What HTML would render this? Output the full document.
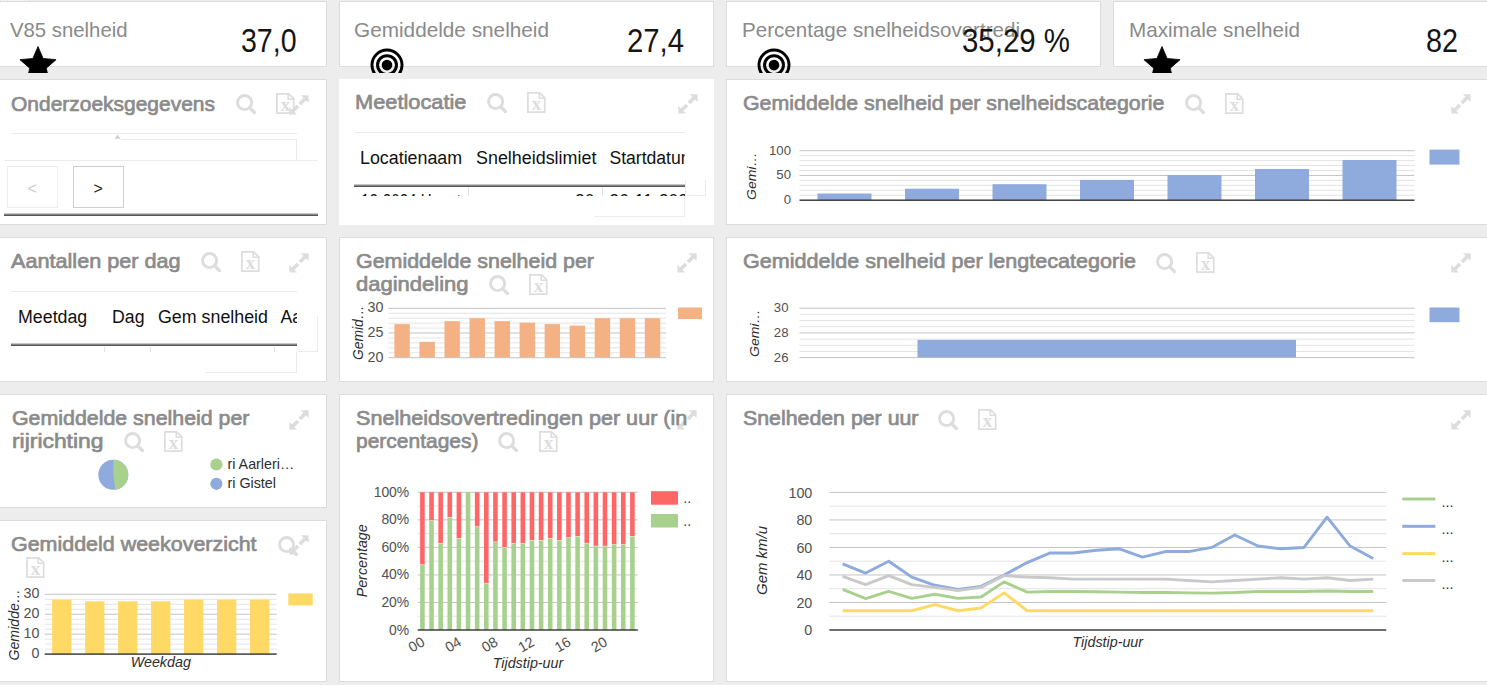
<!DOCTYPE html>
<html lang="nl"><head><meta charset="utf-8"><title>Dashboard snelheidsmetingen</title>
<style>
html,body{margin:0;padding:0}
body{width:1487px;height:685px;overflow:hidden;background:#ededed;position:relative;font-family:"Liberation Sans",sans-serif}
.a{position:absolute;box-sizing:content-box}
.p{position:absolute;background:#fff;border:1px solid #dcdcdc}
.p.nb{border:none}
.t{position:absolute;white-space:nowrap;transform-origin:0 50%}
svg{overflow:hidden;display:block}
</style></head><body>
<div class="a" style="left:2px;top:0;width:26px;height:1px;background:repeating-linear-gradient(to right,#fff 0,#fff 1px,transparent 1px,transparent 3px)"></div>
<div class="p" style="left:-6px;top:1px;width:331px;height:64px"></div>
<div class="t" style="left:10.30px;top:19.02px;font-size:21px;line-height:21px;color:#8a8a8a;transform:scaleX(0.9676);">V85 snelheid</div>
<svg class="a" style="left:16px;top:44px" width="44" height="29" viewBox="16 44 44 29"><polygon points="38.00,46.50 43.11,58.46 56.07,59.63 46.27,68.19 49.17,80.87 38.00,74.20 26.83,80.87 29.73,68.19 19.93,59.63 32.89,58.46" fill="#000" stroke="#000" stroke-width="0.8" stroke-linejoin="round"/></svg>
<div class="t" style="left:241.00px;top:23.54px;font-size:33.5px;line-height:33.5px;color:#151515;transform:scaleX(0.8512);">37,0</div>
<div class="p" style="left:339px;top:1px;width:373px;height:64px"></div>
<div class="t" style="left:354.30px;top:19.02px;font-size:21px;line-height:21px;color:#8a8a8a;transform:scaleX(0.9883);">Gemiddelde snelheid</div>
<svg class="a" style="left:367px;top:44px" width="40" height="29" viewBox="367 44 40 29"><circle cx="387" cy="65.1" r="15.05" fill="none" stroke="#000" stroke-width="2.9"/><circle cx="387" cy="65.1" r="9.45" fill="none" stroke="#000" stroke-width="3"/><circle cx="387" cy="65.1" r="5.3" fill="#000"/></svg>
<div class="t" style="left:627.00px;top:23.54px;font-size:33.5px;line-height:33.5px;color:#151515;transform:scaleX(0.8742);">27,4</div>
<div class="p" style="left:726px;top:1px;width:373px;height:64px"></div>
<div class="t" style="left:742.30px;top:19.02px;font-size:21px;line-height:21px;color:#8a8a8a;transform:scaleX(0.9800);">Percentage snelheidsovertredi</div>
<svg class="a" style="left:754.1px;top:44px" width="40" height="29" viewBox="754.1 44 40 29"><circle cx="774.1" cy="65.1" r="15.05" fill="none" stroke="#000" stroke-width="2.9"/><circle cx="774.1" cy="65.1" r="9.45" fill="none" stroke="#000" stroke-width="3"/><circle cx="774.1" cy="65.1" r="5.3" fill="#000"/></svg>
<div class="t" style="left:962.00px;top:23.54px;font-size:33.5px;line-height:33.5px;color:#151515;transform:scaleX(0.8786);">35,29 %</div>
<div class="p" style="left:1113px;top:1px;width:378px;height:64px"></div>
<div class="t" style="left:1129.30px;top:19.02px;font-size:21px;line-height:21px;color:#8a8a8a;transform:scaleX(0.9832);">Maximale snelheid</div>
<svg class="a" style="left:1140px;top:44px" width="44" height="29" viewBox="1140 44 44 29"><polygon points="1162.00,46.50 1167.11,58.46 1180.07,59.63 1170.27,68.19 1173.17,80.87 1162.00,74.20 1150.83,80.87 1153.73,68.19 1143.93,59.63 1156.89,58.46" fill="#000" stroke="#000" stroke-width="0.8" stroke-linejoin="round"/></svg>
<div class="t" style="left:1426.00px;top:23.54px;font-size:33.5px;line-height:33.5px;color:#151515;transform:scaleX(0.8588);">82</div>
<div class="p" style="left:-6px;top:79px;width:331px;height:144px"></div>
<div class="t" style="left:11.30px;top:93.69px;font-size:20.8px;line-height:20.8px;color:#8b8b8b;transform:scaleX(1.0081);-webkit-text-stroke:0.7px #8b8b8b;">Onderzoeksgegevens</div>
<svg class="a" style="left:235.8px;top:94.1px" width="22" height="22" viewBox="0 0 22 22"><circle cx="8.6" cy="8.6" r="7.05" fill="none" stroke="#dddddd" stroke-width="2.9"/><path d="M13.8 13.9 L18.4 18.5" stroke="#dddddd" stroke-width="3.2" stroke-linecap="round"/></svg>
<svg class="a" style="left:275.5px;top:93.1px" width="20" height="22" viewBox="0 0 20 22"><path d="M0.9 0.8 H12.6 L17.7 5.9 V20.2 H0.9 Z" fill="none" stroke="#dddddd" stroke-width="1.7"/><path d="M12.2 1 V6.3 H17.5" fill="none" stroke="#dddddd" stroke-width="1.5"/><text x="9.4" y="18" font-family="Liberation Serif, serif" font-weight="bold" font-size="19" text-anchor="middle" fill="#dddddd">x</text></svg>
<svg class="a" style="left:289.3px;top:94.8px" width="20" height="20" viewBox="0 0 20 20"><path d="M11.9 0.3 H19.6 V8 Z M0.3 11.9 V19.6 H8 Z" fill="#dddddd"/><path d="M10.9 9 L16.6 3.3 M9 10.9 L3.3 16.6" stroke="#dddddd" stroke-width="3.6"/></svg>
<div class="a" style="left:11px;top:133px;width:286px;height:1px;background:#ebebeb"></div>
<svg class="a" style="left:114px;top:134px" width="7" height="5" viewBox="0 0 7 5"><path d="M3.5 0.3 L6.3 4.7 H0.7 Z" fill="#c9cfe0"/></svg>
<div class="a" style="left:121px;top:139px;width:175px;height:20px;border:1px solid #ebebeb;border-left:none"></div>
<div class="a" style="left:4px;top:160px;width:314px;height:1px;background:#ebebeb"></div>
<div class="a" style="left:7px;top:166px;width:49px;height:40px;border:1px solid #eeeeee"></div>
<div class="t" style="left:27.50px;top:181.46px;font-size:16px;line-height:16px;color:#cccccc;">&lt;</div>
<div class="a" style="left:73px;top:166px;width:49px;height:40px;border:1px solid #cfcfcf"></div>
<div class="t" style="left:93.50px;top:181.46px;font-size:16px;line-height:16px;color:#222222;">&gt;</div>
<div class="a" style="left:4px;top:213px;width:314px;height:1px;background:#c6c6c6"></div>
<div class="a" style="left:4px;top:214px;width:314px;height:1px;background:#858585"></div>
<div class="a" style="left:4px;top:215px;width:314px;height:1px;background:#565656"></div>
<div class="p nb" style="left:339px;top:79px;width:375px;height:146px"></div>
<div class="t" style="left:354.80px;top:92.39px;font-size:20.8px;line-height:20.8px;color:#8b8b8b;transform:scaleX(1.0482);-webkit-text-stroke:0.7px #8b8b8b;">Meetlocatie</div>
<svg class="a" style="left:486.6px;top:93px" width="22" height="22" viewBox="0 0 22 22"><circle cx="8.6" cy="8.6" r="7.05" fill="none" stroke="#dddddd" stroke-width="2.9"/><path d="M13.8 13.9 L18.4 18.5" stroke="#dddddd" stroke-width="3.2" stroke-linecap="round"/></svg>
<svg class="a" style="left:526.8px;top:92px" width="20" height="22" viewBox="0 0 20 22"><path d="M0.9 0.8 H12.6 L17.7 5.9 V20.2 H0.9 Z" fill="none" stroke="#dddddd" stroke-width="1.7"/><path d="M12.2 1 V6.3 H17.5" fill="none" stroke="#dddddd" stroke-width="1.5"/><text x="9.4" y="18" font-family="Liberation Serif, serif" font-weight="bold" font-size="19" text-anchor="middle" fill="#dddddd">x</text></svg>
<svg class="a" style="left:677.8px;top:93.8px" width="20" height="20" viewBox="0 0 20 20"><path d="M11.9 0.3 H19.6 V8 Z M0.3 11.9 V19.6 H8 Z" fill="#dddddd"/><path d="M10.9 9 L16.6 3.3 M9 10.9 L3.3 16.6" stroke="#dddddd" stroke-width="3.6"/></svg>
<div class="a" style="left:354px;top:132px;width:331px;height:1px;background:#ebebeb"></div>
<div class="t" style="left:360.20px;top:149.50px;font-size:17.6px;line-height:17.6px;color:#111;transform:scaleX(1.0140);">Locatienaam</div>
<div class="t" style="left:476.20px;top:149.50px;font-size:17.6px;line-height:17.6px;color:#111;transform:scaleX(1.0171);">Snelheidslimiet</div>
<div class="a" style="left:600px;top:140px;width:85px;height:40px;overflow:hidden">
<div class="t" style="left:9.40px;top:9.50px;font-size:17.6px;line-height:17.6px;color:#111;">Startdatum</div>
</div>
<div class="a" style="left:354px;top:184px;width:331px;height:1px;background:#c6c6c6"></div>
<div class="a" style="left:354px;top:185px;width:331px;height:1px;background:#858585"></div>
<div class="a" style="left:354px;top:186px;width:331px;height:1px;background:#565656"></div>
<div class="a" style="left:354px;top:187px;width:331px;height:9px;overflow:hidden">
<div class="t" style="left:7.00px;top:6.10px;font-size:17.6px;line-height:17.6px;color:#111;transform:scaleX(0.8587);">12-2024 Hoogt</div>
<div class="t" style="left:221.02px;top:6.10px;font-size:17.6px;line-height:17.6px;color:#111;">30</div>
<div class="t" style="left:255.20px;top:6.10px;font-size:17.6px;line-height:17.6px;color:#111;">26-11-2024</div>
</div>
<div class="a" style="left:468px;top:187px;width:1px;height:9px;background:#e4e4e4"></div>
<div class="a" style="left:602px;top:187px;width:1px;height:9px;background:#e4e4e4"></div>
<div class="a" style="left:685px;top:180px;width:19px;height:15px;border:1px solid #ebebeb;border-top:none"></div>
<div class="a" style="left:594px;top:196px;width:90px;height:20px;border:1px solid #ebebeb;border-left:none;border-top:none"></div>
<div class="p" style="left:726px;top:79px;width:763px;height:144px"></div>
<div class="t" style="left:742.50px;top:93.39px;font-size:20.8px;line-height:20.8px;color:#8b8b8b;transform:scaleX(1.0268);-webkit-text-stroke:0.7px #8b8b8b;">Gemiddelde snelheid per snelheidscategorie</div>
<svg class="a" style="left:1184.5px;top:93.5px" width="22" height="22" viewBox="0 0 22 22"><circle cx="8.6" cy="8.6" r="7.05" fill="none" stroke="#dddddd" stroke-width="2.9"/><path d="M13.8 13.9 L18.4 18.5" stroke="#dddddd" stroke-width="3.2" stroke-linecap="round"/></svg>
<svg class="a" style="left:1224.7px;top:92.5px" width="20" height="22" viewBox="0 0 20 22"><path d="M0.9 0.8 H12.6 L17.7 5.9 V20.2 H0.9 Z" fill="none" stroke="#dddddd" stroke-width="1.7"/><path d="M12.2 1 V6.3 H17.5" fill="none" stroke="#dddddd" stroke-width="1.5"/><text x="9.4" y="18" font-family="Liberation Serif, serif" font-weight="bold" font-size="19" text-anchor="middle" fill="#dddddd">x</text></svg>
<svg class="a" style="left:1450.6px;top:94.3px" width="20" height="20" viewBox="0 0 20 20"><path d="M11.9 0.3 H19.6 V8 Z M0.3 11.9 V19.6 H8 Z" fill="#dddddd"/><path d="M10.9 9 L16.6 3.3 M9 10.9 L3.3 16.6" stroke="#dddddd" stroke-width="3.6"/></svg>
<svg class="a" style="left:735px;top:140px" width="752" height="75" viewBox="735 140 752 75" font-family="Liberation Sans, sans-serif">
<rect x="799.50" y="194.75" width="615.00" height="1" fill="#e4e4e4"/>
<rect x="799.50" y="189.80" width="615.00" height="1" fill="#e4e4e4"/>
<rect x="799.50" y="184.85" width="615.00" height="1" fill="#e4e4e4"/>
<rect x="799.50" y="179.90" width="615.00" height="1" fill="#e4e4e4"/>
<rect x="799.50" y="170.00" width="615.00" height="1" fill="#e4e4e4"/>
<rect x="799.50" y="165.05" width="615.00" height="1" fill="#e4e4e4"/>
<rect x="799.50" y="160.10" width="615.00" height="1" fill="#e4e4e4"/>
<rect x="799.50" y="155.15" width="615.00" height="1" fill="#e4e4e4"/>
<rect x="799.50" y="174.95" width="615.00" height="1" fill="#c4c4c4"/>
<rect x="799.50" y="150.20" width="615.00" height="1" fill="#c4c4c4"/>
<rect x="817.50" y="193.52" width="54.00" height="6.68" fill="#8faadc"/>
<rect x="905.00" y="188.72" width="54.00" height="11.48" fill="#8faadc"/>
<rect x="992.50" y="184.21" width="54.00" height="15.99" fill="#8faadc"/>
<rect x="1080.00" y="179.91" width="54.00" height="20.29" fill="#8faadc"/>
<rect x="1167.50" y="175.10" width="54.00" height="25.10" fill="#8faadc"/>
<rect x="1255.00" y="169.01" width="54.00" height="31.19" fill="#8faadc"/>
<rect x="1342.50" y="160.01" width="54.00" height="40.19" fill="#8faadc"/>
<rect x="799.50" y="199.50" width="615.00" height="1.4" fill="#333333"/>
<text x="791.00" y="204.20" font-size="13.2" fill="#505050" text-anchor="end">0</text>
<text x="791.00" y="179.45" font-size="13.2" fill="#505050" text-anchor="end">50</text>
<text x="791.00" y="154.70" font-size="13.2" fill="#505050" text-anchor="end">100</text>
<text x="756.00" y="200.00" font-size="13.2" fill="#2e2e2e" font-style="italic" transform="rotate(-90 756.00 200.00)" textLength="47.5" lengthAdjust="spacingAndGlyphs">Gemi…</text>
<rect x="1429.5" y="149.6" width="30" height="15" fill="#8faadc"/>
</svg>
<div class="p" style="left:-6px;top:237px;width:331px;height:143px"></div>
<div class="t" style="left:11.30px;top:251.19px;font-size:20.8px;line-height:20.8px;color:#8b8b8b;transform:scaleX(1.0400);-webkit-text-stroke:0.7px #8b8b8b;">Aantallen per dag</div>
<svg class="a" style="left:201px;top:251.9px" width="22" height="22" viewBox="0 0 22 22"><circle cx="8.6" cy="8.6" r="7.05" fill="none" stroke="#dddddd" stroke-width="2.9"/><path d="M13.8 13.9 L18.4 18.5" stroke="#dddddd" stroke-width="3.2" stroke-linecap="round"/></svg>
<svg class="a" style="left:241.3px;top:250.8px" width="20" height="22" viewBox="0 0 20 22"><path d="M0.9 0.8 H12.6 L17.7 5.9 V20.2 H0.9 Z" fill="none" stroke="#dddddd" stroke-width="1.7"/><path d="M12.2 1 V6.3 H17.5" fill="none" stroke="#dddddd" stroke-width="1.5"/><text x="9.4" y="18" font-family="Liberation Serif, serif" font-weight="bold" font-size="19" text-anchor="middle" fill="#dddddd">x</text></svg>
<svg class="a" style="left:289px;top:253px" width="20" height="20" viewBox="0 0 20 20"><path d="M11.9 0.3 H19.6 V8 Z M0.3 11.9 V19.6 H8 Z" fill="#dddddd"/><path d="M10.9 9 L16.6 3.3 M9 10.9 L3.3 16.6" stroke="#dddddd" stroke-width="3.6"/></svg>
<div class="a" style="left:11px;top:291px;width:286px;height:1px;background:#ebebeb"></div>
<div class="t" style="left:17.50px;top:309.10px;font-size:17.6px;line-height:17.6px;color:#111;transform:scaleX(1.0117);">Meetdag</div>
<div class="t" style="left:112.00px;top:309.10px;font-size:17.6px;line-height:17.6px;color:#111;transform:scaleX(1.0065);">Dag</div>
<div class="t" style="left:157.50px;top:309.10px;font-size:17.6px;line-height:17.6px;color:#111;transform:scaleX(1.0129);">Gem snelheid</div>
<div class="a" style="left:270px;top:300px;width:27px;height:40px;overflow:hidden">
<div class="t" style="left:10.50px;top:9.10px;font-size:17.6px;line-height:17.6px;color:#111;">Aantal</div>
</div>
<div class="a" style="left:11px;top:343px;width:286px;height:1px;background:#c6c6c6"></div>
<div class="a" style="left:11px;top:344px;width:286px;height:1px;background:#858585"></div>
<div class="a" style="left:11px;top:345px;width:286px;height:1px;background:#565656"></div>
<div class="a" style="left:104px;top:346.5px;width:1px;height:5.5px;background:#e4e4e4"></div>
<div class="a" style="left:150px;top:346.5px;width:1px;height:5.5px;background:#e4e4e4"></div>
<div class="a" style="left:274px;top:346.5px;width:1px;height:5.5px;background:#e4e4e4"></div>
<div class="a" style="left:297px;top:316px;width:19.5px;height:35px;border:1px solid #ebebeb;border-top:none;border-left:none"></div>
<div class="a" style="left:206px;top:352px;width:90px;height:20px;border:1px solid #ebebeb;border-left:none;border-top:none"></div>
<div class="p" style="left:339px;top:237px;width:373px;height:143px"></div>
<div class="t" style="left:355.50px;top:250.89px;font-size:20.8px;line-height:20.8px;color:#8b8b8b;transform:scaleX(1.0291);-webkit-text-stroke:0.7px #8b8b8b;">Gemiddelde snelheid per</div>
<div class="t" style="left:355.50px;top:273.89px;font-size:20.8px;line-height:20.8px;color:#8b8b8b;transform:scaleX(1.0581);-webkit-text-stroke:0.7px #8b8b8b;">dagindeling</div>
<svg class="a" style="left:488.5px;top:275.3px" width="22" height="22" viewBox="0 0 22 22"><circle cx="8.6" cy="8.6" r="7.05" fill="none" stroke="#dddddd" stroke-width="2.9"/><path d="M13.8 13.9 L18.4 18.5" stroke="#dddddd" stroke-width="3.2" stroke-linecap="round"/></svg>
<svg class="a" style="left:529px;top:274.3px" width="20" height="22" viewBox="0 0 20 22"><path d="M0.9 0.8 H12.6 L17.7 5.9 V20.2 H0.9 Z" fill="none" stroke="#dddddd" stroke-width="1.7"/><path d="M12.2 1 V6.3 H17.5" fill="none" stroke="#dddddd" stroke-width="1.5"/><text x="9.4" y="18" font-family="Liberation Serif, serif" font-weight="bold" font-size="19" text-anchor="middle" fill="#dddddd">x</text></svg>
<svg class="a" style="left:676.5px;top:253px" width="20" height="20" viewBox="0 0 20 20"><path d="M11.9 0.3 H19.6 V8 Z M0.3 11.9 V19.6 H8 Z" fill="#dddddd"/><path d="M10.9 9 L16.6 3.3 M9 10.9 L3.3 16.6" stroke="#dddddd" stroke-width="3.6"/></svg>
<svg class="a" style="left:345px;top:296px" width="370" height="75" viewBox="345 296 370 75" font-family="Liberation Sans, sans-serif">
<rect x="388.50" y="352.26" width="277.50" height="1" fill="#e4e4e4"/>
<rect x="388.50" y="347.32" width="277.50" height="1" fill="#e4e4e4"/>
<rect x="388.50" y="342.38" width="277.50" height="1" fill="#e4e4e4"/>
<rect x="388.50" y="337.44" width="277.50" height="1" fill="#e4e4e4"/>
<rect x="388.50" y="327.56" width="277.50" height="1" fill="#e4e4e4"/>
<rect x="388.50" y="322.62" width="277.50" height="1" fill="#e4e4e4"/>
<rect x="388.50" y="317.68" width="277.50" height="1" fill="#e4e4e4"/>
<rect x="388.50" y="312.74" width="277.50" height="1" fill="#e4e4e4"/>
<rect x="388.50" y="332.50" width="277.50" height="1" fill="#c4c4c4"/>
<rect x="388.50" y="307.80" width="277.50" height="1" fill="#c4c4c4"/>
<rect x="394.40" y="324.11" width="15.40" height="33.59" fill="#f4b183"/>
<rect x="419.44" y="341.89" width="15.40" height="15.81" fill="#f4b183"/>
<rect x="444.48" y="321.14" width="15.40" height="36.56" fill="#f4b183"/>
<rect x="469.52" y="318.18" width="15.40" height="39.52" fill="#f4b183"/>
<rect x="494.56" y="321.14" width="15.40" height="36.56" fill="#f4b183"/>
<rect x="519.60" y="322.63" width="15.40" height="35.07" fill="#f4b183"/>
<rect x="544.64" y="324.11" width="15.40" height="33.59" fill="#f4b183"/>
<rect x="569.68" y="325.59" width="15.40" height="32.11" fill="#f4b183"/>
<rect x="594.72" y="318.18" width="15.40" height="39.52" fill="#f4b183"/>
<rect x="619.76" y="318.18" width="15.40" height="39.52" fill="#f4b183"/>
<rect x="644.80" y="318.18" width="15.40" height="39.52" fill="#f4b183"/>
<rect x="388.50" y="357.20" width="277.50" height="1" fill="#c4c4c4"/>
<text x="383.50" y="361.60" font-size="14.3" fill="#505050" text-anchor="end">20</text>
<text x="383.50" y="336.90" font-size="14.3" fill="#505050" text-anchor="end">25</text>
<text x="383.50" y="312.20" font-size="14.3" fill="#505050" text-anchor="end">30</text>
<text x="362.70" y="360.00" font-size="14.3" fill="#2e2e2e" font-style="italic" transform="rotate(-90 362.70 360.00)" textLength="54.5" lengthAdjust="spacingAndGlyphs">Gemid…</text>
<rect x="678" y="307.5" width="24" height="11.5" fill="#f4b183"/>
</svg>
<div class="p" style="left:726px;top:237px;width:763px;height:143px"></div>
<div class="t" style="left:742.50px;top:251.39px;font-size:20.8px;line-height:20.8px;color:#8b8b8b;transform:scaleX(1.0361);-webkit-text-stroke:0.7px #8b8b8b;">Gemiddelde snelheid per lengtecategorie</div>
<svg class="a" style="left:1156px;top:252.5px" width="22" height="22" viewBox="0 0 22 22"><circle cx="8.6" cy="8.6" r="7.05" fill="none" stroke="#dddddd" stroke-width="2.9"/><path d="M13.8 13.9 L18.4 18.5" stroke="#dddddd" stroke-width="3.2" stroke-linecap="round"/></svg>
<svg class="a" style="left:1196.3px;top:251.5px" width="20" height="22" viewBox="0 0 20 22"><path d="M0.9 0.8 H12.6 L17.7 5.9 V20.2 H0.9 Z" fill="none" stroke="#dddddd" stroke-width="1.7"/><path d="M12.2 1 V6.3 H17.5" fill="none" stroke="#dddddd" stroke-width="1.5"/><text x="9.4" y="18" font-family="Liberation Serif, serif" font-weight="bold" font-size="19" text-anchor="middle" fill="#dddddd">x</text></svg>
<svg class="a" style="left:1450.6px;top:253px" width="20" height="20" viewBox="0 0 20 20"><path d="M11.9 0.3 H19.6 V8 Z M0.3 11.9 V19.6 H8 Z" fill="#dddddd"/><path d="M10.9 9 L16.6 3.3 M9 10.9 L3.3 16.6" stroke="#dddddd" stroke-width="3.6"/></svg>
<svg class="a" style="left:735px;top:296px" width="752" height="75" viewBox="735 296 752 75" font-family="Liberation Sans, sans-serif">
<rect x="799.50" y="350.93" width="615.00" height="1" fill="#e4e4e4"/>
<rect x="799.50" y="344.75" width="615.00" height="1" fill="#e4e4e4"/>
<rect x="799.50" y="338.57" width="615.00" height="1" fill="#e4e4e4"/>
<rect x="799.50" y="326.23" width="615.00" height="1" fill="#e4e4e4"/>
<rect x="799.50" y="320.05" width="615.00" height="1" fill="#e4e4e4"/>
<rect x="799.50" y="313.88" width="615.00" height="1" fill="#e4e4e4"/>
<rect x="799.50" y="332.40" width="615.00" height="1" fill="#c4c4c4"/>
<rect x="799.50" y="307.70" width="615.00" height="1" fill="#c4c4c4"/>
<rect x="799.50" y="357.10" width="615.00" height="1" fill="#c4c4c4"/>
<rect x="917.5" y="339.9" width="378.5" height="17.5" fill="#8faadc"/>
<text x="788.50" y="361.60" font-size="13.2" fill="#505050" text-anchor="end">26</text>
<text x="788.50" y="336.90" font-size="13.2" fill="#505050" text-anchor="end">28</text>
<text x="788.50" y="312.20" font-size="13.2" fill="#505050" text-anchor="end">30</text>
<text x="759.00" y="357.00" font-size="13.2" fill="#2e2e2e" font-style="italic" transform="rotate(-90 759.00 357.00)" textLength="47.5" lengthAdjust="spacingAndGlyphs">Gemi…</text>
<rect x="1429.5" y="307.5" width="30" height="14.7" fill="#8faadc"/>
</svg>
<div class="p" style="left:-6px;top:394px;width:331px;height:112px"></div>
<div class="t" style="left:11.50px;top:407.79px;font-size:20.8px;line-height:20.8px;color:#8b8b8b;transform:scaleX(1.0269);-webkit-text-stroke:0.7px #8b8b8b;">Gemiddelde snelheid per</div>
<div class="t" style="left:11.50px;top:430.69px;font-size:20.8px;line-height:20.8px;color:#8b8b8b;transform:scaleX(1.0994);-webkit-text-stroke:0.7px #8b8b8b;">rijrichting</div>
<svg class="a" style="left:123.7px;top:432.3px" width="22" height="22" viewBox="0 0 22 22"><circle cx="8.6" cy="8.6" r="7.05" fill="none" stroke="#dddddd" stroke-width="2.9"/><path d="M13.8 13.9 L18.4 18.5" stroke="#dddddd" stroke-width="3.2" stroke-linecap="round"/></svg>
<svg class="a" style="left:164.2px;top:431.3px" width="20" height="22" viewBox="0 0 20 22"><path d="M0.9 0.8 H12.6 L17.7 5.9 V20.2 H0.9 Z" fill="none" stroke="#dddddd" stroke-width="1.7"/><path d="M12.2 1 V6.3 H17.5" fill="none" stroke="#dddddd" stroke-width="1.5"/><text x="9.4" y="18" font-family="Liberation Serif, serif" font-weight="bold" font-size="19" text-anchor="middle" fill="#dddddd">x</text></svg>
<svg class="a" style="left:289.3px;top:410px" width="20" height="20" viewBox="0 0 20 20"><path d="M11.9 0.3 H19.6 V8 Z M0.3 11.9 V19.6 H8 Z" fill="#dddddd"/><path d="M10.9 9 L16.6 3.3 M9 10.9 L3.3 16.6" stroke="#dddddd" stroke-width="3.6"/></svg>
<svg class="a" style="left:90px;top:455px" width="230" height="45" viewBox="90 455 230 45" font-family="Liberation Sans, sans-serif">
<circle cx="113.3" cy="474.8" r="15" fill="#8faadc"/>
<path d="M113.3 474.8 L113.3 459.8 A15 15 0 0 1 115.39 489.65 Z" fill="#a9d18e"/>
<circle cx="216.4" cy="464.5" r="6.1" fill="#a9d18e"/><circle cx="216.4" cy="483.8" r="6.1" fill="#8faadc"/>
<text x="227.50" y="468.80" font-size="14.3" fill="#2e2e2e">ri Aarleri…</text>
<text x="227.50" y="488.10" font-size="14.3" fill="#2e2e2e">ri Gistel</text>
</svg>
<div class="p" style="left:-6px;top:520px;width:331px;height:160px"></div>
<div class="t" style="left:11.40px;top:534.09px;font-size:20.8px;line-height:20.8px;color:#8b8b8b;transform:scaleX(1.0312);-webkit-text-stroke:0.7px #8b8b8b;">Gemiddeld weekoverzicht</div>
<svg class="a" style="left:278px;top:535.5px" width="22" height="22" viewBox="0 0 22 22"><circle cx="8.6" cy="8.6" r="7.05" fill="none" stroke="#dddddd" stroke-width="2.9"/><path d="M13.8 13.9 L18.4 18.5" stroke="#dddddd" stroke-width="3.2" stroke-linecap="round"/></svg>
<svg class="a" style="left:288.6px;top:535px" width="20" height="20" viewBox="0 0 20 20"><path d="M11.9 0.3 H19.6 V8 Z M0.3 11.9 V19.6 H8 Z" fill="#dddddd"/><path d="M10.9 9 L16.6 3.3 M9 10.9 L3.3 16.6" stroke="#dddddd" stroke-width="3.6"/></svg>
<svg class="a" style="left:26px;top:556.5px" width="20" height="22" viewBox="0 0 20 22"><path d="M0.9 0.8 H12.6 L17.7 5.9 V20.2 H0.9 Z" fill="none" stroke="#dddddd" stroke-width="1.7"/><path d="M12.2 1 V6.3 H17.5" fill="none" stroke="#dddddd" stroke-width="1.5"/><text x="9.4" y="18" font-family="Liberation Serif, serif" font-weight="bold" font-size="19" text-anchor="middle" fill="#dddddd">x</text></svg>
<svg class="a" style="left:0px;top:580px" width="326" height="100" viewBox="0 580 326 100" font-family="Liberation Sans, sans-serif">
<rect x="44.70" y="648.62" width="232.00" height="1" fill="#e4e4e4"/>
<rect x="44.70" y="643.63" width="232.00" height="1" fill="#e4e4e4"/>
<rect x="44.70" y="638.65" width="232.00" height="1" fill="#e4e4e4"/>
<rect x="44.70" y="628.68" width="232.00" height="1" fill="#e4e4e4"/>
<rect x="44.70" y="623.70" width="232.00" height="1" fill="#e4e4e4"/>
<rect x="44.70" y="618.72" width="232.00" height="1" fill="#e4e4e4"/>
<rect x="44.70" y="608.75" width="232.00" height="1" fill="#e4e4e4"/>
<rect x="44.70" y="603.77" width="232.00" height="1" fill="#e4e4e4"/>
<rect x="44.70" y="598.78" width="232.00" height="1" fill="#e4e4e4"/>
<rect x="44.70" y="633.67" width="232.00" height="1" fill="#c4c4c4"/>
<rect x="44.70" y="613.73" width="232.00" height="1" fill="#c4c4c4"/>
<rect x="44.70" y="593.80" width="232.00" height="1" fill="#c4c4c4"/>
<rect x="52.15" y="599.68" width="19.30" height="54.42" fill="#ffd966"/>
<rect x="85.12" y="601.28" width="19.30" height="52.82" fill="#ffd966"/>
<rect x="118.09" y="601.28" width="19.30" height="52.82" fill="#ffd966"/>
<rect x="151.06" y="601.28" width="19.30" height="52.82" fill="#ffd966"/>
<rect x="184.03" y="599.68" width="19.30" height="54.42" fill="#ffd966"/>
<rect x="217.00" y="599.68" width="19.30" height="54.42" fill="#ffd966"/>
<rect x="249.97" y="599.68" width="19.30" height="54.42" fill="#ffd966"/>
<rect x="44.70" y="653.40" width="232.00" height="1.4" fill="#333333"/>
<text x="39.50" y="657.90" font-size="14.3" fill="#505050" text-anchor="end">0</text>
<text x="39.50" y="637.97" font-size="14.3" fill="#505050" text-anchor="end">10</text>
<text x="39.50" y="618.03" font-size="14.3" fill="#505050" text-anchor="end">20</text>
<text x="39.50" y="598.10" font-size="14.3" fill="#505050" text-anchor="end">30</text>
<text x="19.00" y="660.50" font-size="14.3" fill="#2e2e2e" font-style="italic" transform="rotate(-90 19.00 660.50)" textLength="71.5" lengthAdjust="spacingAndGlyphs">Gemidde…</text>
<text x="160.80" y="667.00" font-size="14.3" fill="#2e2e2e" text-anchor="middle" font-style="italic">Weekdag</text>
<rect x="288.3" y="593.4" width="24.4" height="12" fill="#ffd966"/>
</svg>
<div class="p" style="left:339px;top:394px;width:373px;height:286px"></div>
<svg class="a" style="left:677px;top:410.3px" width="20" height="20" viewBox="0 0 20 20"><path d="M11.9 0.3 H19.6 V8 Z M0.3 11.9 V19.6 H8 Z" fill="#dddddd"/><path d="M10.9 9 L16.6 3.3 M9 10.9 L3.3 16.6" stroke="#dddddd" stroke-width="3.6"/></svg>
<div class="t" style="left:355.50px;top:408.09px;font-size:20.8px;line-height:20.8px;color:#8b8b8b;transform:scaleX(1.0384);-webkit-text-stroke:0.7px #8b8b8b;">Snelheidsovertredingen per uur (in</div>
<div class="t" style="left:355.50px;top:430.89px;font-size:20.8px;line-height:20.8px;color:#8b8b8b;transform:scaleX(1.0089);-webkit-text-stroke:0.7px #8b8b8b;">percentages)</div>
<svg class="a" style="left:498px;top:432.3px" width="22" height="22" viewBox="0 0 22 22"><circle cx="8.6" cy="8.6" r="7.05" fill="none" stroke="#dddddd" stroke-width="2.9"/><path d="M13.8 13.9 L18.4 18.5" stroke="#dddddd" stroke-width="3.2" stroke-linecap="round"/></svg>
<svg class="a" style="left:538.5px;top:431.3px" width="20" height="22" viewBox="0 0 20 22"><path d="M0.9 0.8 H12.6 L17.7 5.9 V20.2 H0.9 Z" fill="none" stroke="#dddddd" stroke-width="1.7"/><path d="M12.2 1 V6.3 H17.5" fill="none" stroke="#dddddd" stroke-width="1.5"/><text x="9.4" y="18" font-family="Liberation Serif, serif" font-weight="bold" font-size="19" text-anchor="middle" fill="#dddddd">x</text></svg>
<svg class="a" style="left:345px;top:480px" width="368" height="200" viewBox="345 480 368 200" font-family="Liberation Sans, sans-serif">
<rect x="417.70" y="615.73" width="220.10" height="1" fill="#e4e4e4"/>
<rect x="417.70" y="588.19" width="220.10" height="1" fill="#e4e4e4"/>
<rect x="417.70" y="560.65" width="220.10" height="1" fill="#e4e4e4"/>
<rect x="417.70" y="533.11" width="220.10" height="1" fill="#e4e4e4"/>
<rect x="417.70" y="505.57" width="220.10" height="1" fill="#e4e4e4"/>
<rect x="417.70" y="601.96" width="220.10" height="1" fill="#c4c4c4"/>
<rect x="417.70" y="574.42" width="220.10" height="1" fill="#c4c4c4"/>
<rect x="417.70" y="546.88" width="220.10" height="1" fill="#c4c4c4"/>
<rect x="417.70" y="519.34" width="220.10" height="1" fill="#c4c4c4"/>
<rect x="417.70" y="491.80" width="220.10" height="1" fill="#c4c4c4"/>
<rect x="420.10" y="492.30" width="4.60" height="72.43" fill="#ff6666"/>
<rect x="420.10" y="564.73" width="4.60" height="65.27" fill="#a9d18e"/>
<rect x="420.10" y="564.38" width="4.60" height="0.7" fill="#fff" fill-opacity="0.55"/>
<rect x="429.23" y="492.30" width="4.60" height="28.37" fill="#ff6666"/>
<rect x="429.23" y="520.67" width="4.60" height="109.33" fill="#a9d18e"/>
<rect x="429.23" y="520.32" width="4.60" height="0.7" fill="#fff" fill-opacity="0.55"/>
<rect x="438.36" y="492.30" width="4.60" height="50.95" fill="#ff6666"/>
<rect x="438.36" y="543.25" width="4.60" height="86.75" fill="#a9d18e"/>
<rect x="438.36" y="542.90" width="4.60" height="0.7" fill="#fff" fill-opacity="0.55"/>
<rect x="447.49" y="492.30" width="4.60" height="25.20" fill="#ff6666"/>
<rect x="447.49" y="517.50" width="4.60" height="112.50" fill="#a9d18e"/>
<rect x="447.49" y="517.15" width="4.60" height="0.7" fill="#fff" fill-opacity="0.55"/>
<rect x="456.62" y="492.30" width="4.60" height="46.27" fill="#ff6666"/>
<rect x="456.62" y="538.57" width="4.60" height="91.43" fill="#a9d18e"/>
<rect x="456.62" y="538.22" width="4.60" height="0.7" fill="#fff" fill-opacity="0.55"/>
<rect x="465.75" y="492.30" width="4.60" height="0.00" fill="#ff6666"/>
<rect x="465.75" y="492.30" width="4.60" height="137.70" fill="#a9d18e"/>
<rect x="474.88" y="492.30" width="4.60" height="34.43" fill="#ff6666"/>
<rect x="474.88" y="526.73" width="4.60" height="103.27" fill="#a9d18e"/>
<rect x="474.88" y="526.38" width="4.60" height="0.7" fill="#fff" fill-opacity="0.55"/>
<rect x="484.01" y="492.30" width="4.60" height="90.88" fill="#ff6666"/>
<rect x="484.01" y="583.18" width="4.60" height="46.82" fill="#a9d18e"/>
<rect x="484.01" y="582.83" width="4.60" height="0.7" fill="#fff" fill-opacity="0.55"/>
<rect x="493.14" y="492.30" width="4.60" height="49.57" fill="#ff6666"/>
<rect x="493.14" y="541.87" width="4.60" height="88.13" fill="#a9d18e"/>
<rect x="493.14" y="541.52" width="4.60" height="0.7" fill="#fff" fill-opacity="0.55"/>
<rect x="502.27" y="492.30" width="4.60" height="55.08" fill="#ff6666"/>
<rect x="502.27" y="547.38" width="4.60" height="82.62" fill="#a9d18e"/>
<rect x="502.27" y="547.03" width="4.60" height="0.7" fill="#fff" fill-opacity="0.55"/>
<rect x="511.40" y="492.30" width="4.60" height="50.95" fill="#ff6666"/>
<rect x="511.40" y="543.25" width="4.60" height="86.75" fill="#a9d18e"/>
<rect x="511.40" y="542.90" width="4.60" height="0.7" fill="#fff" fill-opacity="0.55"/>
<rect x="520.53" y="492.30" width="4.60" height="50.95" fill="#ff6666"/>
<rect x="520.53" y="543.25" width="4.60" height="86.75" fill="#a9d18e"/>
<rect x="520.53" y="542.90" width="4.60" height="0.7" fill="#fff" fill-opacity="0.55"/>
<rect x="529.66" y="492.30" width="4.60" height="48.19" fill="#ff6666"/>
<rect x="529.66" y="540.50" width="4.60" height="89.50" fill="#a9d18e"/>
<rect x="529.66" y="540.14" width="4.60" height="0.7" fill="#fff" fill-opacity="0.55"/>
<rect x="538.79" y="492.30" width="4.60" height="48.19" fill="#ff6666"/>
<rect x="538.79" y="540.50" width="4.60" height="89.50" fill="#a9d18e"/>
<rect x="538.79" y="540.14" width="4.60" height="0.7" fill="#fff" fill-opacity="0.55"/>
<rect x="547.92" y="492.30" width="4.60" height="46.27" fill="#ff6666"/>
<rect x="547.92" y="538.57" width="4.60" height="91.43" fill="#a9d18e"/>
<rect x="547.92" y="538.22" width="4.60" height="0.7" fill="#fff" fill-opacity="0.55"/>
<rect x="557.05" y="492.30" width="4.60" height="48.19" fill="#ff6666"/>
<rect x="557.05" y="540.50" width="4.60" height="89.50" fill="#a9d18e"/>
<rect x="557.05" y="540.14" width="4.60" height="0.7" fill="#fff" fill-opacity="0.55"/>
<rect x="566.18" y="492.30" width="4.60" height="45.44" fill="#ff6666"/>
<rect x="566.18" y="537.74" width="4.60" height="92.26" fill="#a9d18e"/>
<rect x="566.18" y="537.39" width="4.60" height="0.7" fill="#fff" fill-opacity="0.55"/>
<rect x="575.31" y="492.30" width="4.60" height="44.06" fill="#ff6666"/>
<rect x="575.31" y="536.36" width="4.60" height="93.64" fill="#a9d18e"/>
<rect x="575.31" y="536.01" width="4.60" height="0.7" fill="#fff" fill-opacity="0.55"/>
<rect x="584.44" y="492.30" width="4.60" height="50.95" fill="#ff6666"/>
<rect x="584.44" y="543.25" width="4.60" height="86.75" fill="#a9d18e"/>
<rect x="584.44" y="542.90" width="4.60" height="0.7" fill="#fff" fill-opacity="0.55"/>
<rect x="593.57" y="492.30" width="4.60" height="53.70" fill="#ff6666"/>
<rect x="593.57" y="546.00" width="4.60" height="84.00" fill="#a9d18e"/>
<rect x="593.57" y="545.65" width="4.60" height="0.7" fill="#fff" fill-opacity="0.55"/>
<rect x="602.70" y="492.30" width="4.60" height="53.70" fill="#ff6666"/>
<rect x="602.70" y="546.00" width="4.60" height="84.00" fill="#a9d18e"/>
<rect x="602.70" y="545.65" width="4.60" height="0.7" fill="#fff" fill-opacity="0.55"/>
<rect x="611.83" y="492.30" width="4.60" height="52.33" fill="#ff6666"/>
<rect x="611.83" y="544.63" width="4.60" height="85.37" fill="#a9d18e"/>
<rect x="611.83" y="544.28" width="4.60" height="0.7" fill="#fff" fill-opacity="0.55"/>
<rect x="620.96" y="492.30" width="4.60" height="52.33" fill="#ff6666"/>
<rect x="620.96" y="544.63" width="4.60" height="85.37" fill="#a9d18e"/>
<rect x="620.96" y="544.28" width="4.60" height="0.7" fill="#fff" fill-opacity="0.55"/>
<rect x="630.09" y="492.30" width="4.60" height="44.06" fill="#ff6666"/>
<rect x="630.09" y="536.36" width="4.60" height="93.64" fill="#a9d18e"/>
<rect x="630.09" y="536.01" width="4.60" height="0.7" fill="#fff" fill-opacity="0.55"/>
<rect x="417.70" y="629.30" width="220.10" height="1.4" fill="#333333"/>
<text x="409.20" y="634.50" font-size="13.9" fill="#505050" text-anchor="end">0%</text>
<text x="409.20" y="606.96" font-size="13.9" fill="#505050" text-anchor="end">20%</text>
<text x="409.20" y="579.42" font-size="13.9" fill="#505050" text-anchor="end">40%</text>
<text x="409.20" y="551.88" font-size="13.9" fill="#505050" text-anchor="end">60%</text>
<text x="409.20" y="524.34" font-size="13.9" fill="#505050" text-anchor="end">80%</text>
<text x="409.20" y="496.80" font-size="13.9" fill="#505050" text-anchor="end">100%</text>
<text x="425.90" y="644.70" font-size="14.3" fill="#505050" text-anchor="end" transform="rotate(-30 425.90 644.70)">00</text>
<text x="462.42" y="644.70" font-size="14.3" fill="#505050" text-anchor="end" transform="rotate(-30 462.42 644.70)">04</text>
<text x="498.94" y="644.70" font-size="14.3" fill="#505050" text-anchor="end" transform="rotate(-30 498.94 644.70)">08</text>
<text x="535.46" y="644.70" font-size="14.3" fill="#505050" text-anchor="end" transform="rotate(-30 535.46 644.70)">12</text>
<text x="571.98" y="644.70" font-size="14.3" fill="#505050" text-anchor="end" transform="rotate(-30 571.98 644.70)">16</text>
<text x="608.50" y="644.70" font-size="14.3" fill="#505050" text-anchor="end" transform="rotate(-30 608.50 644.70)">20</text>
<text x="366.80" y="560.80" font-size="14.3" fill="#2e2e2e" text-anchor="middle" font-style="italic" transform="rotate(-90 366.80 560.80)">Percentage</text>
<text x="528.00" y="667.60" font-size="14.3" fill="#2e2e2e" text-anchor="middle" font-style="italic">Tijdstip-uur</text>
<rect x="651" y="491.2" width="27" height="13.5" fill="#ff6666"/><rect x="651" y="514" width="27" height="13.5" fill="#a9d18e"/>
<text x="683.30" y="503.00" font-size="14.3" fill="#3a3a3a">..</text>
<text x="683.30" y="525.50" font-size="14.3" fill="#3a3a3a">..</text>
</svg>
<div class="p" style="left:726px;top:394px;width:763px;height:286px"></div>
<div class="t" style="left:742.50px;top:408.19px;font-size:20.8px;line-height:20.8px;color:#8b8b8b;transform:scaleX(1.0253);-webkit-text-stroke:0.7px #8b8b8b;">Snelheden per uur</div>
<svg class="a" style="left:937.5px;top:409.5px" width="22" height="22" viewBox="0 0 22 22"><circle cx="8.6" cy="8.6" r="7.05" fill="none" stroke="#dddddd" stroke-width="2.9"/><path d="M13.8 13.9 L18.4 18.5" stroke="#dddddd" stroke-width="3.2" stroke-linecap="round"/></svg>
<svg class="a" style="left:977.5px;top:408.5px" width="20" height="22" viewBox="0 0 20 22"><path d="M0.9 0.8 H12.6 L17.7 5.9 V20.2 H0.9 Z" fill="none" stroke="#dddddd" stroke-width="1.7"/><path d="M12.2 1 V6.3 H17.5" fill="none" stroke="#dddddd" stroke-width="1.5"/><text x="9.4" y="18" font-family="Liberation Serif, serif" font-weight="bold" font-size="19" text-anchor="middle" fill="#dddddd">x</text></svg>
<svg class="a" style="left:1450.6px;top:410px" width="20" height="20" viewBox="0 0 20 20"><path d="M11.9 0.3 H19.6 V8 Z M0.3 11.9 V19.6 H8 Z" fill="#dddddd"/><path d="M10.9 9 L16.6 3.3 M9 10.9 L3.3 16.6" stroke="#dddddd" stroke-width="3.6"/></svg>
<svg class="a" style="left:735px;top:480px" width="752" height="200" viewBox="735 480 752 200" font-family="Liberation Sans, sans-serif">
<rect x="829.30" y="615.74" width="557.00" height="1" fill="#e4e4e4"/>
<rect x="829.30" y="588.22" width="557.00" height="1" fill="#e4e4e4"/>
<rect x="829.30" y="560.70" width="557.00" height="1" fill="#e4e4e4"/>
<rect x="829.30" y="533.18" width="557.00" height="1" fill="#e4e4e4"/>
<rect x="829.30" y="505.66" width="557.00" height="1" fill="#e4e4e4"/>
<rect x="829.30" y="601.98" width="557.00" height="1" fill="#c4c4c4"/>
<rect x="829.30" y="574.46" width="557.00" height="1" fill="#c4c4c4"/>
<rect x="829.30" y="546.94" width="557.00" height="1" fill="#c4c4c4"/>
<rect x="829.30" y="519.42" width="557.00" height="1" fill="#c4c4c4"/>
<rect x="829.30" y="491.90" width="557.00" height="1" fill="#c4c4c4"/>
<polyline points="842.60,589.41 865.67,598.63 888.74,591.47 911.81,598.35 934.88,594.22 957.95,598.35 981.02,596.98 1004.09,581.84 1027.16,592.16 1050.23,591.47 1073.30,591.47 1096.37,591.75 1119.44,592.16 1142.51,592.57 1165.58,592.44 1188.65,592.85 1211.72,593.12 1234.79,592.57 1257.86,591.47 1280.93,591.47 1304.00,591.47 1327.07,591.06 1350.14,591.47 1373.21,591.47" fill="none" stroke="#a9d18e" stroke-width="2.9" stroke-linejoin="round"/>
<polyline points="842.60,563.95 865.67,573.03 888.74,561.20 911.81,577.16 934.88,585.28 957.95,589.41 981.02,586.38 1004.09,574.96 1027.16,562.58 1050.23,552.94 1073.30,552.94 1096.37,550.19 1119.44,548.82 1142.51,557.07 1165.58,551.57 1188.65,551.57 1211.72,547.44 1234.79,535.06 1257.86,546.06 1280.93,548.82 1304.00,547.44 1327.07,517.17 1350.14,546.06 1373.21,558.45" fill="none" stroke="#8faadc" stroke-width="2.9" stroke-linejoin="round"/>
<polyline points="842.60,610.74 865.67,610.74 888.74,610.74 911.81,610.74 934.88,604.54 957.95,610.74 981.02,607.98 1004.09,592.85 1027.16,610.74 1050.23,610.74 1073.30,610.74 1096.37,610.74 1119.44,610.74 1142.51,610.74 1165.58,610.74 1188.65,610.74 1211.72,610.74 1234.79,610.74 1257.86,610.74 1280.93,610.74 1304.00,610.74 1327.07,610.74 1350.14,610.74 1373.21,610.74" fill="none" stroke="#ffd966" stroke-width="2.9" stroke-linejoin="round"/>
<polyline points="842.60,576.34 865.67,584.59 888.74,575.65 911.81,584.59 934.88,587.34 957.95,590.51 981.02,587.34 1004.09,575.65 1027.16,577.16 1050.23,577.71 1073.30,579.09 1096.37,579.09 1119.44,579.09 1142.51,579.09 1165.58,579.09 1188.65,580.46 1211.72,581.84 1234.79,580.46 1257.86,579.09 1280.93,577.71 1304.00,579.09 1327.07,577.71 1350.14,580.46 1373.21,579.09" fill="none" stroke="#c9c9c9" stroke-width="2.9" stroke-linejoin="round"/>
<rect x="829.30" y="629.30" width="557.00" height="1.4" fill="#333333"/>
<text x="812.30" y="635.40" font-size="14.3" fill="#505050" text-anchor="end">0</text>
<text x="812.30" y="607.88" font-size="14.3" fill="#505050" text-anchor="end">20</text>
<text x="812.30" y="580.36" font-size="14.3" fill="#505050" text-anchor="end">40</text>
<text x="812.30" y="552.84" font-size="14.3" fill="#505050" text-anchor="end">60</text>
<text x="812.30" y="525.32" font-size="14.3" fill="#505050" text-anchor="end">80</text>
<text x="812.30" y="497.80" font-size="14.3" fill="#505050" text-anchor="end">100</text>
<text x="767.00" y="560.50" font-size="14.3" fill="#2e2e2e" text-anchor="middle" font-style="italic" transform="rotate(-90 767.00 560.50)" textLength="69" lengthAdjust="spacingAndGlyphs">Gem km/u</text>
<text x="1107.80" y="647.00" font-size="14.3" fill="#2e2e2e" text-anchor="middle" font-style="italic">Tijdstip-uur</text>
<rect x="1402.3" y="497.5" width="33" height="3" fill="#a9d18e"/>
<text x="1441.50" y="507.00" font-size="14.3" fill="#2e2e2e" textLength="12" lengthAdjust="spacingAndGlyphs">...</text>
<rect x="1402.3" y="524.8" width="33" height="3" fill="#8faadc"/>
<text x="1441.50" y="534.30" font-size="14.3" fill="#2e2e2e" textLength="12" lengthAdjust="spacingAndGlyphs">...</text>
<rect x="1402.3" y="552.1" width="33" height="3" fill="#ffd966"/>
<text x="1441.50" y="561.60" font-size="14.3" fill="#2e2e2e" textLength="12" lengthAdjust="spacingAndGlyphs">...</text>
<rect x="1402.3" y="579.0" width="33" height="3" fill="#c9c9c9"/>
<text x="1441.50" y="588.50" font-size="14.3" fill="#2e2e2e" textLength="12" lengthAdjust="spacingAndGlyphs">...</text>
</svg>
</body></html>
